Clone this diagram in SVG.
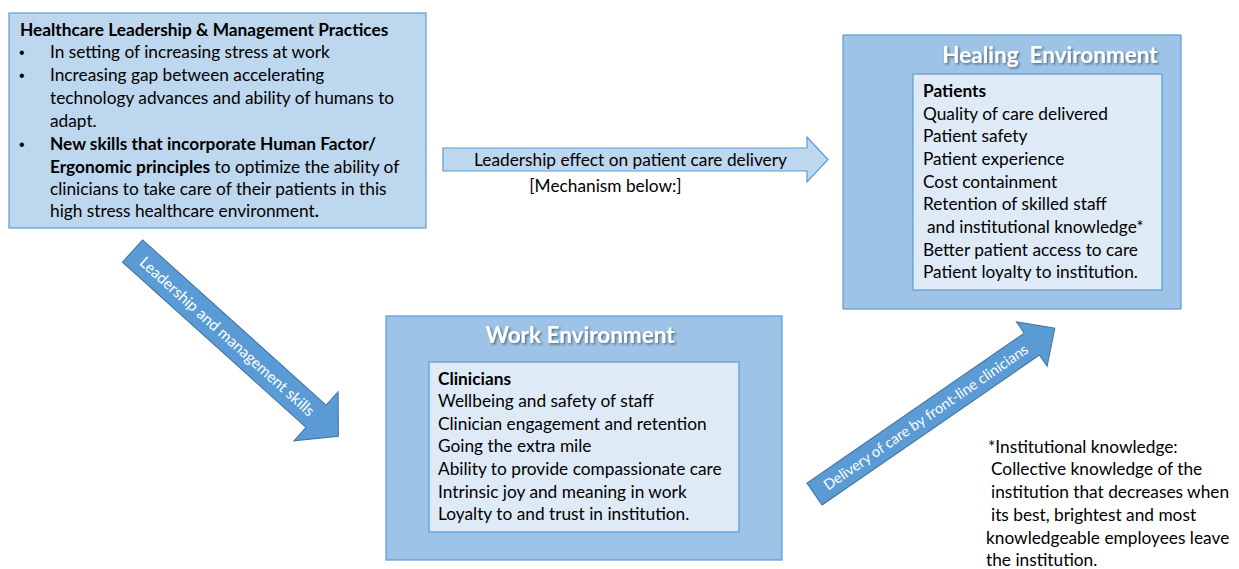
<svg xmlns="http://www.w3.org/2000/svg" width="1239" height="569" viewBox="0 0 1239 569">
<style>
text{font-family:Lato,"Open Sans","Liberation Sans",sans-serif;font-size:17.3px;fill:#000}
.b{font-weight:bold}
.bul{font-family:"Liberation Sans",sans-serif;font-size:16px}
.title{font-weight:bold;font-size:22.5px;fill:#fff;filter:url(#sh)}
.light{fill:#BDD7EE;stroke:#5B9BD5;stroke-width:1.2}
.mid{fill:#9DC3E6;stroke:#5B9BD5;stroke-width:1.2}
.inner{fill:#DEEBF7;stroke:#5B9BD5;stroke-width:1.2}
.dark{fill:#5B9BD5;stroke:#41719C;stroke-width:1}
.wt{fill:#fff}
</style>
<defs>
<filter id="sh" x="-10%" y="-30%" width="130%" height="170%">
<feDropShadow dx="1.5" dy="1.5" stdDeviation="0.8" flood-color="#000" flood-opacity="0.45"/>
</filter>
</defs>
<rect width="1239" height="569" fill="#fff"/>

<g id="connectors">
<g id="arrow-leadership-effect">
<polygon class="light" points="443,148 807,148 807,137 828,159.5 807,182 807,171 443,171"/>
<text x="630.5" y="166" text-anchor="middle">Leadership effect on patient care delivery</text>
<text x="605.5" y="192" text-anchor="middle">[Mechanism below:]</text>
</g>
<g id="arrow-leadership-skills" transform="translate(132.5,251) rotate(42)">
<polygon class="dark" points="0,-15 247,-15 247,-33 277,0 247,33 247,15 0,15"/>
<text class="wt" x="13" y="5.5" style="font-size:15.4px">Leadership and management skills</text>
</g>
<g id="arrow-delivery" transform="translate(814.5,494) rotate(-34.6)">
<polygon class="dark" points="0,-13.3 264,-13.3 264,-27 292,0 264,27 264,13.3 0,13.3"/>
<text class="wt" x="13" y="5" style="font-size:14.6px">Delivery of care by front-line clinicians</text>
</g>
</g>

<g id="leadership-practices">
<rect class="light" x="9" y="13" width="417" height="215"/>
<text class="b" x="20" y="36">Healthcare Leadership &amp; Management Practices</text>
<text class="bul" x="19" y="58">•</text><text x="50" y="58">In setting of increasing stress at work</text>
<text class="bul" x="19" y="81">•</text><text x="50" y="81">Increasing gap between accelerating</text>
<text x="50" y="104">technology advances and ability of humans to</text>
<text x="50" y="127">adapt.</text>
<text class="bul" x="19" y="150">•</text><text x="50" y="150"><tspan class="b">New skills that incorporate Human Factor/</tspan></text>
<text x="50" y="173"><tspan class="b">Ergonomic principles</tspan> to optimize the ability of</text>
<text x="50" y="195">clinicians to take care of their patients in this</text>
<text x="50" y="217">high stress healthcare environment<tspan class="b">.</tspan></text>
</g>

<g id="healing-environment">
<rect class="mid" x="843" y="35" width="338" height="274"/>
<text class="title" x="1050" y="63" text-anchor="middle" xml:space="preserve">Healing  Environment</text>
<rect class="inner" x="913" y="74" width="249" height="216"/>
<text class="b" x="923" y="97">Patients</text>
<text x="923" y="120">Quality of care delivered</text>
<text x="923" y="142">Patient safety</text>
<text x="923" y="165">Patient experience</text>
<text x="923" y="188">Cost containment</text>
<text x="923" y="210">Retention of skilled staff</text>
<text x="927" y="233">and institutional knowledge*</text>
<text x="923" y="256">Better patient access to care</text>
<text x="923" y="278">Patient loyalty to institution.</text>
</g>

<g id="work-environment">
<rect class="mid" x="386" y="316" width="396" height="244"/>
<text class="title" x="580" y="343" text-anchor="middle">Work Environment</text>
<rect class="inner" x="429" y="362" width="310" height="170"/>
<text class="b" x="438" y="385">Clinicians</text>
<text x="438" y="407">Wellbeing and safety of staff</text>
<text x="438" y="430">Clinician engagement and retention</text>
<text x="438" y="452">Going the extra mile</text>
<text x="438" y="475">Ability to provide compassionate care</text>
<text x="438" y="498">Intrinsic joy and meaning in work</text>
<text x="438" y="520">Loyalty to and trust in institution.</text>
</g>

<g id="footnote">
<text x="988" y="453">*Institutional knowledge:</text>
<text x="991" y="475">Collective knowledge of the</text>
<text x="991" y="498">institution that decreases when</text>
<text x="991" y="521">its best, brightest and most</text>
<text x="986" y="544">knowledgeable employees leave</text>
<text x="986" y="566">the institution.</text>
</g>
</svg>
